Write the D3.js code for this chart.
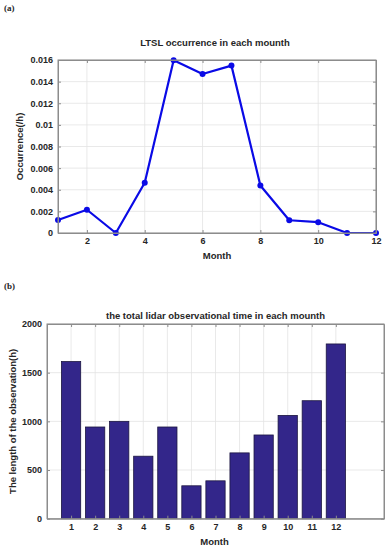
<!DOCTYPE html>
<html>
<head>
<meta charset="utf-8">
<script src="https://cdn.jsdelivr.net/npm/d3@7"></script>
<style>
  body { margin: 0; background: #fff; }
  svg text { font-family: "Liberation Sans", Arial, sans-serif; font-weight: bold; fill: #262626; }
  .panel { font-family: "Liberation Serif", "Times New Roman", serif !important; }
</style>
</head>
<body>
<div id="chart"></div>
<script>
// month numbers shared by both panels
var months = [1, 2, 3, 4, 5, 6, 7, 8, 9, 10, 11, 12];

// (a) occurrence per hour
var occurrence = [0.0012, 0.00215, 0, 0.00465, 0.01597, 0.0147, 0.01548, 0.0044, 0.00118, 0.001, 0, 0];
var occTicks = [0, 0.002, 0.004, 0.006, 0.008, 0.01, 0.012, 0.014, 0.016];
var occXTicks = [2, 4, 6, 8, 10, 12];

// (b) total observation hours
var obsHours = [1614, 942, 1000, 642, 942, 338, 389, 676, 860, 1061, 1212, 1795];
var obsTicks = [0, 500, 1000, 1500, 2000];

var svgWidth = 390, svgHeight = 550;

var svg = d3.select("#chart")
  .append("svg")
  .attr("width", svgWidth)
  .attr("height", svgHeight);

var gridColor = "#e3e3e3";
var axisColor = "#8c8c8c";

// draw a MATLAB-ish box with inward ticks on all four sides
function drawFrame(g, x, y, w, h, xTicks, yTicks, yFmt) {
  // grid
  g.append("g").selectAll("line")
    .data(xTicks)
    .enter().append("line")
    .attr("x1", d => x(d)).attr("x2", d => x(d))
    .attr("y1", 0).attr("y2", h)
    .attr("stroke", gridColor).attr("stroke-width", 0.8);
  g.append("g").selectAll("line")
    .data(yTicks)
    .enter().append("line")
    .attr("x1", 0).attr("x2", w)
    .attr("y1", d => y(d)).attr("y2", d => y(d))
    .attr("stroke", gridColor).attr("stroke-width", 0.8);
}

function drawAxes(g, x, y, w, h, xTicks, yTicks, yFmt) {
  var bottom = g.append("g")
    .attr("transform", `translate(0, ${h})`)
    .call(d3.axisBottom(x).tickValues(xTicks).tickSizeInner(-3).tickSizeOuter(0).tickPadding(5));
  var top = g.append("g")
    .call(d3.axisTop(x).tickValues(xTicks).tickSizeInner(-3).tickSizeOuter(0).tickFormat(""));
  var left = g.append("g")
    .call(d3.axisLeft(y).tickValues(yTicks).tickSizeInner(-3).tickSizeOuter(0).tickPadding(5).tickFormat(yFmt));
  var right = g.append("g")
    .attr("transform", `translate(${w}, 0)`)
    .call(d3.axisRight(y).tickValues(yTicks).tickSizeInner(-3).tickSizeOuter(0).tickFormat(""));

  [bottom, top, left, right].forEach(function(a) {
    a.select(".domain").attr("stroke", axisColor);
    a.selectAll(".tick line").attr("stroke", axisColor);
    a.selectAll("text").attr("font-size", "9px").attr("fill", "#262626");
  });
  // box edges
  g.append("rect")
    .attr("width", w).attr("height", h)
    .attr("fill", "none").attr("stroke", axisColor).attr("stroke-width", 1);
}

// ---------- panel (a) ----------
var marginA = { left: 58, top: 60 };
var wA = 376 - 58, hA = 233 - 60;
var gA = svg.append("g").attr("transform", `translate(${marginA.left}, ${marginA.top})`);

var xA = d3.scaleLinear().domain([1, 12]).range([0, wA]);
var yA = d3.scaleLinear().domain([0, 0.016]).range([hA, 0]);

drawFrame(gA, xA, yA, wA, hA, occXTicks, occTicks);

var lineA = d3.line()
  .x((d, i) => xA(months[i]))
  .y(d => yA(d));

gA.append("path")
  .datum(occurrence)
  .attr("d", lineA)
  .attr("fill", "none")
  .attr("stroke", "#0a0ae6")
  .attr("stroke-width", 2.2)
  .attr("stroke-linejoin", "round");

gA.selectAll("circle")
  .data(occurrence)
  .enter().append("circle")
  .attr("cx", (d, i) => xA(months[i]))
  .attr("cy", d => yA(d))
  .attr("r", 3)
  .attr("fill", "#0a0ae6");

drawAxes(gA, xA, yA, wA, hA, occXTicks, occTicks, d => d === 0 ? "0" : String(+d.toFixed(3)));

svg.append("text")
  .attr("x", marginA.left + wA / 2 - 2).attr("y", 46)
  .attr("text-anchor", "middle").attr("font-size", "9.5px")
  .text("LTSL occurrence in each mounth");

svg.append("text")
  .attr("x", marginA.left + wA / 2).attr("y", 259)
  .attr("text-anchor", "middle").attr("font-size", "9.5px")
  .text("Month");

svg.append("text")
  .attr("transform", `translate(23, ${marginA.top + hA / 2}) rotate(-90)`)
  .attr("text-anchor", "middle").attr("font-size", "9.5px")
  .text("Occurrence(/h)");

svg.append("text")
  .attr("class", "panel")
  .attr("x", 4).attr("y", 11)
  .attr("font-size", "9px").attr("fill", "#000")
  .text("(a)");

// ---------- panel (b) ----------
var marginB = { left: 47, top: 324 };
var wB = 384 - 47, hB = 518.7 - 324;
var gB = svg.append("g").attr("transform", `translate(${marginB.left}, ${marginB.top})`);

var xB = d3.scaleLinear().domain([0, 14]).range([0, wB]);
var yB = d3.scaleLinear().domain([0, 2000]).range([hB, 0]);
var barW = (xB(1) - xB(0)) * 0.8;

drawFrame(gB, xB, yB, wB, hB, months, obsTicks);

gB.selectAll("rect.bar")
  .data(obsHours)
  .enter().append("rect")
  .attr("class", "bar")
  .attr("x", (d, i) => xB(months[i]) - barW / 2)
  .attr("width", barW)
  .attr("y", d => yB(d))
  .attr("height", d => hB - yB(d))
  .attr("fill", "#33268a")
  .attr("stroke", "#1c1640")
  .attr("stroke-width", 0.8);

drawAxes(gB, xB, yB, wB, hB, months, obsTicks, d3.format("d"));

svg.append("text")
  .attr("x", marginB.left + wB / 2).attr("y", 319)
  .attr("text-anchor", "middle").attr("font-size", "9.5px")
  .text("the total lidar observational time in each mounth");

svg.append("text")
  .attr("x", marginB.left + wB / 2 - 1).attr("y", 545)
  .attr("text-anchor", "middle").attr("font-size", "9.5px")
  .text("Month");

svg.append("text")
  .attr("transform", `translate(16, ${marginB.top + hB / 2}) rotate(-90)`)
  .attr("text-anchor", "middle").attr("font-size", "9.5px")
  .text("The length of the observation(h)");

svg.append("text")
  .attr("class", "panel")
  .attr("x", 4).attr("y", 289)
  .attr("font-size", "9px").attr("fill", "#000")
  .text("(b)");
</script>
</body>
</html>
